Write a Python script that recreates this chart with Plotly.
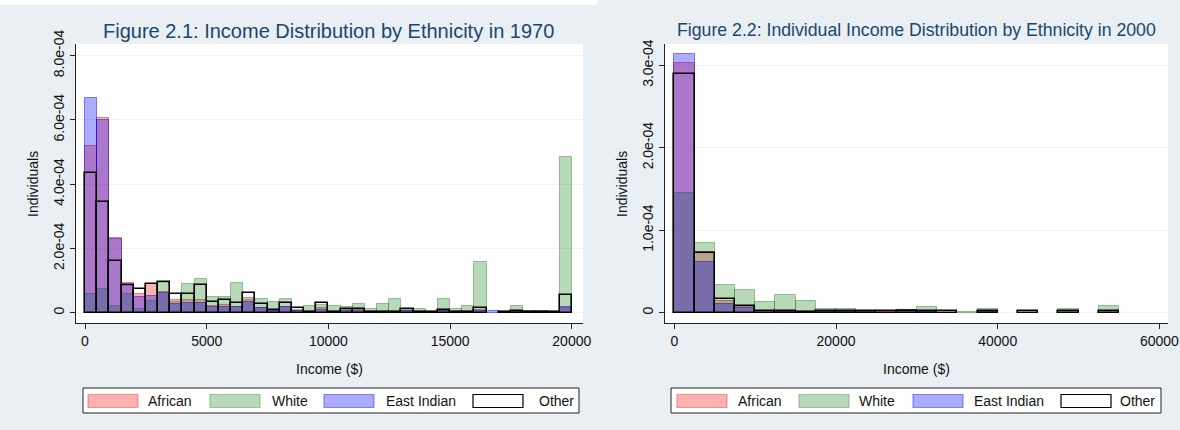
import numpy as np
import plotly.graph_objects as go

W, H = 1180, 430
FONT = "Liberation Sans, Arial, Helvetica, sans-serif"
TITLE_COLOR = "#1a476f"
BG = "#e9eff3"

# ---- 1970: density of income, $500 bins from 0 to 20000 ----
bin_width_1970 = 500
african_1970 = [5.18e-4, 6.06e-4, 2.31e-4, 9.2e-5, 5.7e-5, 8.9e-5, 6.3e-5, 4.1e-5, 4.1e-5, 3.9e-5,
                2.2e-5, 2.3e-5, 1.9e-5, 4.6e-5, 1.6e-5, 0.5e-5, 1.8e-5, 0.6e-5, 0.3e-5, 1.4e-5,
                0.2e-5, 0.8e-5, 0.8e-5, 0.2e-5, 0.3e-5, 0.3e-5, 0.6e-5, 0.2e-5, 0.1e-5, 0.5e-5,
                0.1e-5, 0.2e-5, 0.8e-5, None, 0.1e-5, 0.3e-5, 0.1e-5, 0.1e-5, 0.1e-5, 1.5e-5]
white_1970 = [5.8e-5, 7.3e-5, 2.1e-5, 5.9e-5, 1.3e-5, 3.6e-5, 9.1e-5, 3.2e-5, 8.8e-5, 1.04e-4,
              5.0e-5, 5.0e-5, 9.4e-5, 4.0e-5, 4.4e-5, 3.4e-5, 4.3e-5, 1.0e-5, 2.1e-5, 2.4e-5,
              2.1e-5, 1.9e-5, 2.7e-5, 1.1e-5, 2.7e-5, 4.3e-5, 0.9e-5, 1.2e-5, 0.1e-5, 4.3e-5,
              1.1e-5, 2.1e-5, 1.57e-4, None, 0.1e-5, 2.1e-5, 0.5e-5, 0.5e-5, 0.1e-5, 4.85e-4]
east_indian_1970 = [6.69e-4, 6.01e-4, 2.28e-4, 8.4e-5, 5.0e-5, 5.2e-5, 6.0e-5, 2.8e-5, 2.9e-5, 3.1e-5,
                    1.9e-5, 1.8e-5, 1.8e-5, 3.2e-5, 1.4e-5, 0.4e-5, 1.9e-5, 0.5e-5, 0.2e-5, 1.0e-5,
                    0.2e-5, 0.6e-5, 0.6e-5, 0.1e-5, 0.2e-5, 0.2e-5, 0.4e-5, 0.1e-5, 0.1e-5, 0.4e-5,
                    0.1e-5, 0.1e-5, 0.6e-5, 0.4e-5, None, 0.2e-5, 0.1e-5, 0.1e-5, 0.1e-5, 1.9e-5]
other_1970 = [4.35e-4, 3.45e-4, 1.62e-4, 8.6e-5, 7.5e-5, 8.8e-5, 9.5e-5, 5.8e-5, 5.8e-5, 8.6e-5,
              3.2e-5, 3.9e-5, 2.9e-5, 6.1e-5, 2.7e-5, 0.8e-5, 3.0e-5, 1.4e-5, 0.3e-5, 3.1e-5,
              0.3e-5, 1.3e-5, 1.3e-5, 0.3e-5, 0.3e-5, 0.3e-5, 1.3e-5, 0.2e-5, 0.1e-5, 0.8e-5,
              0.2e-5, 0.2e-5, 1.6e-5, None, 0.15e-5, 0.5e-5, 0.15e-5, 0.15e-5, 0.15e-5, 5.4e-5]

# ---- 2000: density of income, $2500 bins from 0 to 55000 ----
bin_width_2000 = 2500
african_2000 = [3.03e-4, 7.3e-5, 1.45e-5, 0.7e-5, 0.2e-5, 0.1e-5, 0.1e-5, 0.1e-5, 0.1e-5, 0.1e-5, 0.05e-5,
                0.3e-5, 0.1e-5, None, None, 0.2e-5, None, None, None, 0.2e-5, None, 0.2e-5]
white_2000 = [1.45e-4, 8.5e-5, 3.35e-5, 2.8e-5, 1.25e-5, 2.14e-5, 1.4e-5, 0.45e-5, 0.45e-5, None, None,
              0.32e-5, 0.73e-5, None, 0.1e-5, 0.45e-5, None, None, None, 0.45e-5, None, 0.85e-5]
east_indian_2000 = [3.13e-4, 6.2e-5, 1.1e-5, 0.6e-5, 0.15e-5, 0.1e-5, 0.05e-5, 0.1e-5, 0.1e-5, 0.05e-5, None,
                    0.3e-5, 0.05e-5, None, None, 0.1e-5, None, None, None, None, None, None]
other_2000 = [2.89e-4, 7.2e-5, 1.6e-5, 0.8e-5, 0.2e-5, 0.15e-5, 0.1e-5, 0.2e-5, 0.2e-5, 0.2e-5, 0.2e-5,
              0.2e-5, 0.2e-5, 0.2e-5, None, 0.2e-5, None, 0.25e-5, None, 0.2e-5, None, 0.2e-5]

groups = ["African", "White", "East Indian", "Other"]
fills = ["rgba(255,0,0,0.30)", "rgba(20,130,20,0.30)", "rgba(0,0,255,0.33)", "rgba(0,0,0,0)"]
edges = ["rgba(230,0,0,0.45)", "rgba(20,120,20,0.40)", "rgba(0,0,230,0.45)", "rgba(0,0,0,1)"]
edge_w = [1, 1, 1, 1.6]


def px_x(x):
    return x / W


def px_y(y):
    return 1 - y / H


fig = go.Figure()

panels = [
    ("x", "y", bin_width_1970, [african_1970, white_1970, east_indian_1970, other_1970]),
    ("x2", "y2", bin_width_2000, [african_2000, white_2000, east_indian_2000, other_2000]),
]
for xa, ya, bw, series in panels:
    centers = bw * (np.arange(len(series[0])) + 0.5)
    for name, vals, fc, lc, lw in zip(groups, series, fills, edges, edge_w):
        fig.add_trace(go.Bar(
            x=centers, y=vals, width=bw, name=name, xaxis=xa, yaxis=ya,
            marker=dict(color=fc, line=dict(color=lc, width=lw)),
            showlegend=False, hoverinfo="skip",
        ))

axis_common = dict(
    showline=True, linecolor="#222", linewidth=1, ticks="outside", ticklen=5,
    tickcolor="#222", tickwidth=1, tickfont=dict(family=FONT, size=14, color="#111"),
    zeroline=False, automargin=False,
)
y_domain = [px_y(323), px_y(44)]

fig.update_layout(
    width=W, height=H, barmode="overlay", bargap=0,
    margin=dict(l=0, r=0, t=0, b=0),
    paper_bgcolor=BG, plot_bgcolor="white",
    xaxis=dict(domain=[px_x(76), px_x(583)], range=[-370, 20460],
               tickvals=[0, 5000, 10000, 15000, 20000],
               ticktext=["0", "5000", "10000", "15000", "20000"],
               showgrid=False, anchor="y", **axis_common),
    yaxis=dict(domain=y_domain, range=[-3.2e-5, 8.36e-4],
               tickvals=[0, 2e-4, 4e-4, 6e-4, 8e-4],
               ticktext=["0", "2.0e-04", "4.0e-04", "6.0e-04", "8.0e-04"],
               tickangle=-90, showgrid=True, gridcolor="#edf1f4", gridwidth=1,
               anchor="x", **axis_common),
    xaxis2=dict(domain=[px_x(665), px_x(1168)], range=[-1150, 61060],
                tickvals=[0, 20000, 40000, 60000],
                ticktext=["0", "20000", "40000", "60000"],
                showgrid=False, anchor="y2", **axis_common),
    yaxis2=dict(domain=y_domain, range=[-1.25e-5, 3.257e-4],
                tickvals=[0, 1e-4, 2e-4, 3e-4],
                ticktext=["0", "1.0e-04", "2.0e-04", "3.0e-04"],
                tickangle=-90, showgrid=True, gridcolor="#edf1f4", gridwidth=1,
                anchor="x2", **axis_common),
)

annotations = []
shapes = []

# white strip along the top of the left graph region
shapes.append(dict(type="rect", xref="paper", yref="paper", x0=0, x1=px_x(597),
                   y0=px_y(5), y1=1, fillcolor="white", line=dict(width=0), layer="below"))

# titles
annotations.append(dict(text="Figure 2.1: Income Distribution by Ethnicity in 1970",
                        x=px_x(328.5), y=px_y(31), xref="paper", yref="paper",
                        showarrow=False, xanchor="center", yanchor="middle",
                        font=dict(family=FONT, size=20, color=TITLE_COLOR)))
annotations.append(dict(text="Figure 2.2: Individual Income Distribution by Ethnicity in 2000",
                        x=px_x(916.5), y=px_y(30), xref="paper", yref="paper",
                        showarrow=False, xanchor="center", yanchor="middle",
                        font=dict(family=FONT, size=17.7, color=TITLE_COLOR)))

# axis titles
for cx in (329.5, 916.5):
    annotations.append(dict(text="Income ($)", x=px_x(cx), y=px_y(369), xref="paper", yref="paper",
                            showarrow=False, xanchor="center", yanchor="middle",
                            font=dict(family=FONT, size=14, color="#111")))
for cx in (33, 622):
    annotations.append(dict(text="Individuals", x=px_x(cx), y=px_y(184), xref="paper", yref="paper",
                            showarrow=False, xanchor="center", yanchor="middle", textangle=-90,
                            font=dict(family=FONT, size=14, color="#111")))

# legends: box, keys and labels
legend_layouts = [
    dict(box=(83, 579), keys=[88, 210, 324, 473], texts=[146, 270, 384, 537]),
    dict(box=(671, 1161), keys=[677, 799, 913, 1061], texts=[736, 857, 972, 1118]),
]
key_w = 50
box_top, box_bot = 388, 413
key_top, key_bot = 394.5, 407.5
legend_fill = ["rgba(255,0,0,0.30)", "rgba(20,130,20,0.30)", "rgba(0,0,255,0.33)", "white"]
legend_edge = ["rgba(230,0,0,0.35)", "rgba(20,120,20,0.35)", "rgba(0,0,230,0.40)", "black"]
for lg in legend_layouts:
    shapes.append(dict(type="rect", xref="paper", yref="paper",
                       x0=px_x(lg["box"][0]), x1=px_x(lg["box"][1]),
                       y0=px_y(box_bot), y1=px_y(box_top),
                       fillcolor="white", line=dict(color="#222", width=1)))
    for name, kx, tx, fc, lc in zip(groups, lg["keys"], lg["texts"], legend_fill, legend_edge):
        shapes.append(dict(type="rect", xref="paper", yref="paper",
                           x0=px_x(kx), x1=px_x(kx + key_w),
                           y0=px_y(key_bot), y1=px_y(key_top),
                           fillcolor=fc, line=dict(color=lc, width=1.2)))
        annotations.append(dict(text=name, x=px_x(tx), y=px_y((box_top + box_bot) / 2),
                                xref="paper", yref="paper", showarrow=False,
                                xanchor="left", yanchor="middle",
                                font=dict(family=FONT, size=14, color="#111")))

fig.update_layout(annotations=annotations, shapes=shapes)

fig.write_html("out.html")
